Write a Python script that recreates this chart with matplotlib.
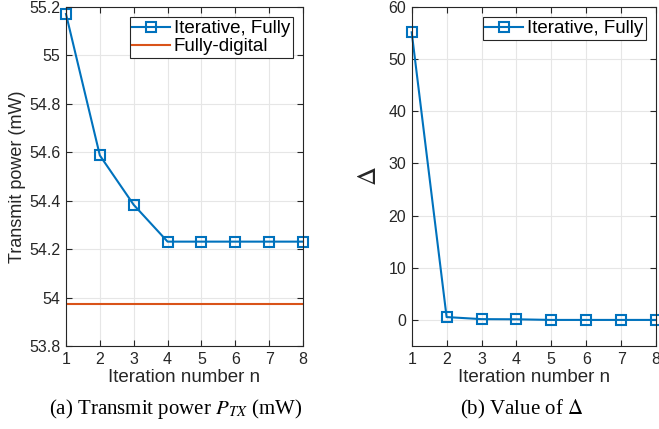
import matplotlib
matplotlib.use("Agg")
import matplotlib.pyplot as plt

iterations = [1, 2, 3, 4, 5, 6, 7, 8]
power_iterative = [55.171, 54.587, 54.383, 54.231, 54.231, 54.231, 54.231, 54.231]
power_digital = 53.975
delta_iterative = [55.15, 0.55, 0.15, 0.12, 0.0, 0.0, 0.0, 0.0]

blue = "#0072BD"
orange = "#D95319"
axcol = "#262626"
gridcol = "#e6e6e6"

plt.rcParams["font.family"] = ["Liberation Sans", "DejaVu Sans"]
plt.rcParams["mathtext.fontset"] = "stix"

fig = plt.figure(figsize=(6.59, 4.29), dpi=100)

def style(ax):
    ax.tick_params(direction="in", top=True, right=True, labelsize=11.5,
                   colors=axcol, length=4, width=0.8, pad=4)
    for s in ax.spines.values():
        s.set_color(axcol)
        s.set_linewidth(0.8)
    ax.grid(True, color=gridcol, linewidth=0.8)
    ax.set_axisbelow(True)

ax1 = fig.add_axes([66/659, 1-346/429, (303-66)/659, (346-7)/429])
ax1.plot(iterations, power_iterative, color=blue, lw=1.5, marker="s", ms=6.5,
         mfc="none", mew=1.5, label="Iterative, Fully", clip_on=False)
ax1.plot([iterations[0], iterations[-1]], [power_digital, power_digital],
         color=orange, lw=1.5, label="Fully-digital")
ax1.set_xlim(1, 8)
ax1.set_ylim(53.8, 55.2)
ax1.set_xticks(iterations)
ax1.set_yticks([53.8, 54, 54.2, 54.4, 54.6, 54.8, 55, 55.2])
ax1.set_yticklabels(["53.8", "54", "54.2", "54.4", "54.6", "54.8", "55", "55.2"])
style(ax1)
ax1.set_xlabel("Iteration number n", fontsize=13.5, color=axcol, labelpad=1.5)
ax1.set_ylabel("Transmit power (mW)", fontsize=13, color=axcol, labelpad=2)
leg1 = ax1.legend(loc="upper right", fontsize=13.5, frameon=True, fancybox=False,
                  edgecolor=axcol, borderpad=0.15, handlelength=2.0,
                  handletextpad=0.2, labelspacing=0.05, borderaxespad=0.55,
                  framealpha=1)
leg1.get_frame().set_linewidth(0.8)

ax2 = fig.add_axes([411.7/659, 1-346/429, (656-411.7)/659, (346-7)/429])
ax2.plot(iterations, delta_iterative, color=blue, lw=1.5, marker="s", ms=6.5,
         mfc="none", mew=1.5, label="Iterative, Fully", clip_on=False)
ax2.set_xlim(1, 8)
ax2.set_ylim(-5, 60)
ax2.set_xticks(iterations)
ax2.set_yticks([0, 10, 20, 30, 40, 50, 60])
style(ax2)
ax2.set_xlabel("Iteration number n", fontsize=13.5, color=axcol, labelpad=1.5)
ax2.set_ylabel(r"$\Delta$", fontsize=19, color=axcol, labelpad=5)
leg2 = ax2.legend(loc="upper right", fontsize=13.5, frameon=True, fancybox=False,
                  edgecolor=axcol, borderpad=0.15, handlelength=2.0,
                  handletextpad=0.2, labelspacing=0.05, borderaxespad=0.55,
                  framealpha=1)
leg2.get_frame().set_linewidth(0.8)

fig.text(176/659, 1-409/429, r"(a) Transmit power $P_{TX}$ (mW)",
         fontsize=15, family="Liberation Serif", ha="center", va="center")
fig.text(522/659, 1-409/429, r"(b) Value of $\Delta$",
         fontsize=15, family="Liberation Serif", ha="center", va="center")

fig.savefig("out.png", dpi=100)
